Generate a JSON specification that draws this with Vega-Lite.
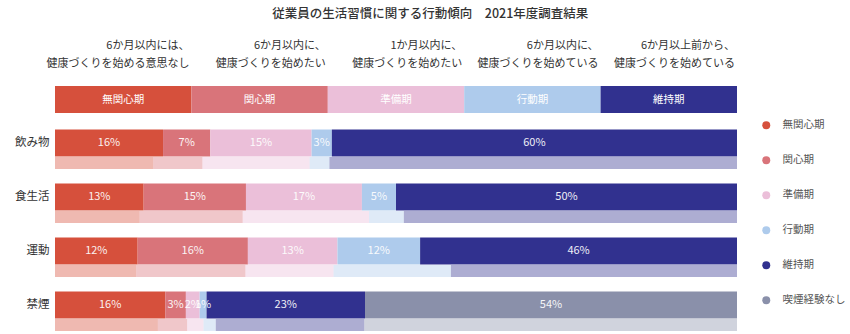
{
  "$schema": "https://vega.github.io/schema/vega-lite/v6.json",
  "width": 682,
  "height": 270,
  "padding": {"left": 14, "right": 2, "top": 7, "bottom": 0},
  "title": {
    "text": "従業員の生活習慣に関する行動傾向　2021年度調査結果",
    "fontSize": 12.5,
    "fontWeight": 500,
    "color": "#333333",
    "anchor": "middle",
    "frame": "bounds",
    "offset": 20
  },
  "config": {
    "font": "Noto Sans CJK JP",
    "view": {"stroke": null},
    "axis": {"grid": false}
  },
  "datasets": {
    "stages": [
      {"stage": "無関心期", "o": 1, "share": 0.2, "line1": "6か月以内には、", "line2": "健康づくりを始める意思なし"},
      {"stage": "関心期", "o": 2, "share": 0.2, "line1": "6か月以内に、", "line2": "健康づくりを始めたい"},
      {"stage": "準備期", "o": 3, "share": 0.2, "line1": "1か月以内に、", "line2": "健康づくりを始めたい"},
      {"stage": "行動期", "o": 4, "share": 0.2, "line1": "6か月以内に、", "line2": "健康づくりを始めている"},
      {"stage": "維持期", "o": 5, "share": 0.2, "line1": "6か月以上前から、", "line2": "健康づくりを始めている"}
    ],
    "survey": [
      {"item": "飲み物", "year": "2021", "stage": "無関心期", "o": 1, "v": 0.16},
      {"item": "飲み物", "year": "2021", "stage": "関心期", "o": 2, "v": 0.07},
      {"item": "飲み物", "year": "2021", "stage": "準備期", "o": 3, "v": 0.15},
      {"item": "飲み物", "year": "2021", "stage": "行動期", "o": 4, "v": 0.03},
      {"item": "飲み物", "year": "2021", "stage": "維持期", "o": 5, "v": 0.60},
      {"item": "食生活", "year": "2021", "stage": "無関心期", "o": 1, "v": 0.13},
      {"item": "食生活", "year": "2021", "stage": "関心期", "o": 2, "v": 0.15},
      {"item": "食生活", "year": "2021", "stage": "準備期", "o": 3, "v": 0.17},
      {"item": "食生活", "year": "2021", "stage": "行動期", "o": 4, "v": 0.05},
      {"item": "食生活", "year": "2021", "stage": "維持期", "o": 5, "v": 0.50},
      {"item": "運動", "year": "2021", "stage": "無関心期", "o": 1, "v": 0.12},
      {"item": "運動", "year": "2021", "stage": "関心期", "o": 2, "v": 0.16},
      {"item": "運動", "year": "2021", "stage": "準備期", "o": 3, "v": 0.13},
      {"item": "運動", "year": "2021", "stage": "行動期", "o": 4, "v": 0.12},
      {"item": "運動", "year": "2021", "stage": "維持期", "o": 5, "v": 0.46},
      {"item": "禁煙", "year": "2021", "stage": "無関心期", "o": 1, "v": 0.16},
      {"item": "禁煙", "year": "2021", "stage": "関心期", "o": 2, "v": 0.03},
      {"item": "禁煙", "year": "2021", "stage": "準備期", "o": 3, "v": 0.02},
      {"item": "禁煙", "year": "2021", "stage": "行動期", "o": 4, "v": 0.01},
      {"item": "禁煙", "year": "2021", "stage": "維持期", "o": 5, "v": 0.23},
      {"item": "禁煙", "year": "2021", "stage": "喫煙経験なし", "o": 6, "v": 0.54},
      {"item": "飲み物", "year": "2020", "stage": "無関心期", "o": 1, "v": 0.144},
      {"item": "飲み物", "year": "2020", "stage": "関心期", "o": 2, "v": 0.072},
      {"item": "飲み物", "year": "2020", "stage": "準備期", "o": 3, "v": 0.157},
      {"item": "飲み物", "year": "2020", "stage": "行動期", "o": 4, "v": 0.029},
      {"item": "飲み物", "year": "2020", "stage": "維持期", "o": 5, "v": 0.597},
      {"item": "食生活", "year": "2020", "stage": "無関心期", "o": 1, "v": 0.124},
      {"item": "食生活", "year": "2020", "stage": "関心期", "o": 2, "v": 0.151},
      {"item": "食生活", "year": "2020", "stage": "準備期", "o": 3, "v": 0.185},
      {"item": "食生活", "year": "2020", "stage": "行動期", "o": 4, "v": 0.051},
      {"item": "食生活", "year": "2020", "stage": "維持期", "o": 5, "v": 0.488},
      {"item": "運動", "year": "2020", "stage": "無関心期", "o": 1, "v": 0.119},
      {"item": "運動", "year": "2020", "stage": "関心期", "o": 2, "v": 0.160},
      {"item": "運動", "year": "2020", "stage": "準備期", "o": 3, "v": 0.129},
      {"item": "運動", "year": "2020", "stage": "行動期", "o": 4, "v": 0.172},
      {"item": "運動", "year": "2020", "stage": "維持期", "o": 5, "v": 0.419},
      {"item": "禁煙", "year": "2020", "stage": "無関心期", "o": 1, "v": 0.151},
      {"item": "禁煙", "year": "2020", "stage": "関心期", "o": 2, "v": 0.043},
      {"item": "禁煙", "year": "2020", "stage": "準備期", "o": 3, "v": 0.024},
      {"item": "禁煙", "year": "2020", "stage": "行動期", "o": 4, "v": 0.018},
      {"item": "禁煙", "year": "2020", "stage": "維持期", "o": 5, "v": 0.218},
      {"item": "禁煙", "year": "2020", "stage": "喫煙経験なし", "o": 6, "v": 0.547}
    ]
  },
  "layer": [
    {
      "data": {"name": "stages"},
      "mark": {"type": "bar", "height": 27, "yOffset": 10.5},
      "encoding": {
        "y": {
          "datum": "区分",
          "type": "nominal",
          "scale": {"domain": ["区分", "飲み物", "食生活", "運動", "禁煙"], "paddingInner": 0, "paddingOuter": 0},
          "axis": {"title": null, "ticks": false, "domain": false, "labelPadding": 6, "labelFontSize": 11.5, "labelColor": "#333333", "labelExpr": "datum.value === '区分' ? '' : datum.label"}
        },
        "x": {"field": "share", "type": "quantitative", "stack": "normalize", "scale": {"domain": [0, 1], "nice": false, "zero": true}, "axis": null},
        "color": {
          "field": "stage",
          "type": "nominal",
          "scale": {
            "domain": ["無関心期", "関心期", "準備期", "行動期", "維持期", "喫煙経験なし"],
            "range": ["#d6503c", "#d9747a", "#ebbfd9", "#aecbec", "#31318f", "#8a90aa"]
          },
          "legend": {
            "title": null,
            "orient": "none",
            "legendX": 706,
            "legendY": 58,
            "symbolType": "circle",
            "symbolSize": 64,
            "symbolOpacity": 1,
            "symbolStrokeWidth": 0,
            "labelFontSize": 10.5,
            "labelColor": "#555555",
            "labelOffset": 11,
            "rowPadding": 24,
            "padding": 0,
            "encode": {"symbols": {"update": {"opacity": {"value": 1}, "fillOpacity": {"value": 1}}}}
          }
        },
        "order": {"field": "o", "type": "quantitative"}
      }
    },
    {
      "data": {"name": "stages"},
      "mark": {"type": "text", "yOffset": 10.5, "color": "white", "fontSize": 10.5, "baseline": "middle", "align": "center"},
      "encoding": {
        "y": {"datum": "区分", "type": "nominal"},
        "x": {"field": "share", "type": "quantitative", "stack": "normalize", "bandPosition": 0.5},
        "detail": {"field": "stage"},
        "order": {"field": "o", "type": "quantitative"},
        "text": {"field": "stage"}
      }
    },
    {
      "data": {"name": "stages"},
      "mark": {"type": "text", "dy": -43, "dx": -2, "color": "#333333", "fontSize": 11, "baseline": "middle", "align": "right"},
      "encoding": {
        "y": {"datum": "区分", "type": "nominal"},
        "x": {"field": "share", "type": "quantitative", "stack": "normalize"},
        "detail": {"field": "stage"},
        "order": {"field": "o", "type": "quantitative"},
        "text": {"field": "line1"}
      }
    },
    {
      "data": {"name": "stages"},
      "mark": {"type": "text", "dy": -25, "dx": -2, "color": "#333333", "fontSize": 11, "baseline": "middle", "align": "right"},
      "encoding": {
        "y": {"datum": "区分", "type": "nominal"},
        "x": {"field": "share", "type": "quantitative", "stack": "normalize"},
        "detail": {"field": "stage"},
        "order": {"field": "o", "type": "quantitative"},
        "text": {"field": "line2"}
      }
    },
    {
      "data": {"name": "survey"},
      "transform": [{"filter": "datum.year === '2020'"}],
      "mark": {"type": "bar", "height": 12, "yOffset": 20, "opacity": 0.4},
      "encoding": {
        "y": {"field": "item", "type": "nominal"},
        "x": {"field": "v", "type": "quantitative", "stack": "normalize"},
        "color": {"field": "stage", "type": "nominal"},
        "order": {"field": "o", "type": "quantitative"}
      }
    },
    {
      "data": {"name": "survey"},
      "transform": [{"filter": "datum.year === '2021'"}],
      "mark": {"type": "bar", "height": 27},
      "encoding": {
        "y": {"field": "item", "type": "nominal"},
        "x": {"field": "v", "type": "quantitative", "stack": "normalize"},
        "color": {"field": "stage", "type": "nominal"},
        "order": {"field": "o", "type": "quantitative"}
      }
    },
    {
      "data": {"name": "survey"},
      "transform": [{"filter": "datum.year === '2021'"}],
      "mark": {"type": "text", "color": "white", "fontSize": 11, "baseline": "middle", "align": "center", "opacity": 0.92},
      "encoding": {
        "y": {"field": "item", "type": "nominal"},
        "x": {"field": "v", "type": "quantitative", "stack": "normalize", "bandPosition": 0.5},
        "detail": {"field": "stage"},
        "order": {"field": "o", "type": "quantitative"},
        "text": {"field": "v", "type": "quantitative", "format": ".0%"}
      }
    }
  ]
}
